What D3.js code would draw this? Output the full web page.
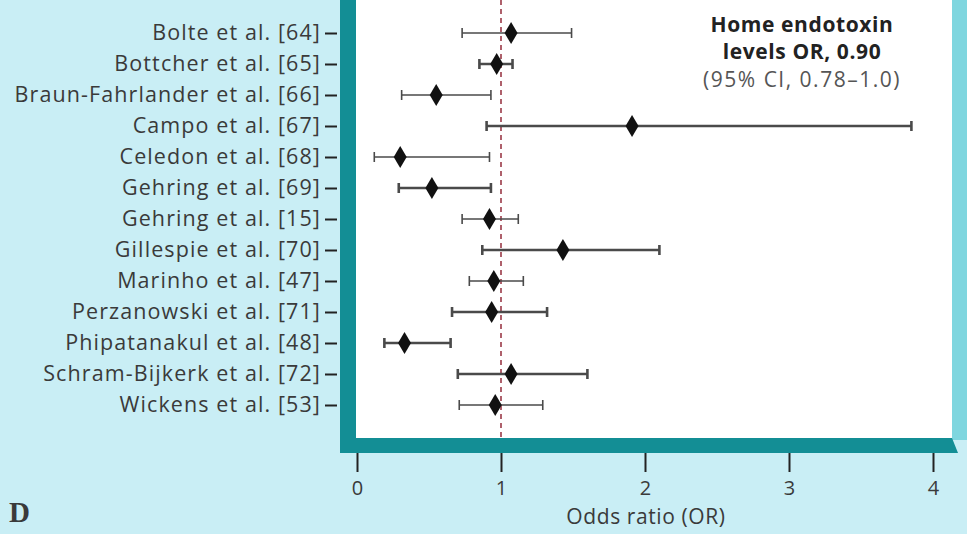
<!DOCTYPE html>
<meta charset="utf-8">
<script src="https://cdn.jsdelivr.net/npm/d3@7"></script>
<style>
body { margin: 0; background: #c9eef5; }
text { font-family: "Open Sans", Lato, sans-serif; fill: #3a3a3a; }
.ci { stroke: #4a4a4a; fill: none; }
</style>
<div id="forest"></div>
<script>

// studies, top to bottom
const studies = ["Bolte et al. [64]", "Bottcher et al. [65]", "Braun-Fahrlander et al. [66]",
  "Campo et al. [67]", "Celedon et al. [68]", "Gehring et al. [69]", "Gehring et al. [15]",
  "Gillespie et al. [70]", "Marinho et al. [47]", "Perzanowski et al. [71]",
  "Phipatanakul et al. [48]", "Schram-Bijkerk et al. [72]", "Wickens et al. [53]"];
const or    = [1.07, 0.97, 0.55, 1.91, 0.30, 0.52, 0.92, 1.43, 0.95, 0.935, 0.33, 1.07, 0.96];
const lower = [0.73, 0.85, 0.31, 0.90, 0.12, 0.29, 0.73, 0.87, 0.78, 0.66, 0.19, 0.70, 0.71];
const upper = [1.49, 1.08, 0.93, 3.85, 0.92, 0.93, 1.12, 2.10, 1.155, 1.32, 0.65, 1.60, 1.29];
// rows drawn with a heavier line in the original
const heavy = ["Bottcher et al. [65]", "Campo et al. [67]", "Gehring et al. [69]",
  "Gillespie et al. [70]", "Perzanowski et al. [71]", "Phipatanakul et al. [48]", "Schram-Bijkerk et al. [72]"];
const xTicks = [0, 1, 2, 3, 4];

const W = 967, H = 534;
const svg = d3.select("#forest").append("svg")
  .attr("width", W).attr("height", H);

const x = d3.scaleLinear().domain([0, 4]).range([357, 933]);
const y = d3.scalePoint().domain(studies).range([33, 405]);

// frame: white panel, teal left & bottom bars, light bar on right
const panel = {left: 356, right: 952, top: 0, bottom: 438};
svg.append("rect").attr("x", panel.right).attr("y", 0)
  .attr("width", W - panel.right).attr("height", panel.bottom + 2).attr("fill", "#7fd6df");
svg.append("rect").attr("x", panel.left).attr("y", 0)
  .attr("width", panel.right - panel.left).attr("height", panel.bottom).attr("fill", "#fff");
svg.append("rect").attr("x", 340).attr("y", 0)
  .attr("width", 16).attr("height", 453).attr("fill", "#138e95");
svg.append("path")
  .attr("d", `M340,${panel.bottom}H${panel.right}L958,453H340Z`)
  .attr("fill", "#138e95");

// reference line at OR = 1
svg.append("line")
  .attr("x1", x(1)).attr("x2", x(1)).attr("y1", 0).attr("y2", panel.bottom)
  .attr("stroke", "#9b3a48").attr("stroke-width", 1.6).attr("stroke-dasharray", "5,4");

// confidence intervals
const rows = studies.map((s, i) => ({name: s, or: or[i], lo: lower[i], hi: upper[i]}));
const g = svg.append("g").selectAll("g").data(rows).join("g")
  .attr("class", "ci")
  .attr("stroke-width", d => heavy.includes(d.name) ? 2.6 : 1.6);
g.append("line").attr("x1", d => x(d.lo)).attr("x2", d => x(d.hi))
  .attr("y1", d => y(d.name)).attr("y2", d => y(d.name));
g.append("line").attr("x1", d => x(d.lo)).attr("x2", d => x(d.lo))
  .attr("y1", d => y(d.name) - 5).attr("y2", d => y(d.name) + 5);
g.append("line").attr("x1", d => x(d.hi)).attr("x2", d => x(d.hi))
  .attr("y1", d => y(d.name) - 5).attr("y2", d => y(d.name) + 5);

// diamonds
svg.append("g").selectAll("path").data(rows).join("path")
  .attr("d", "M0,-11L6.5,0L0,11L-6.5,0Z")
  .attr("transform", d => `translate(${x(d.or)},${y(d.name)})`)
  .attr("fill", "#111");

// y axis (study labels)
const yAxis = svg.append("g").attr("transform", "translate(337,0)")
  .call(d3.axisLeft(y).tickSize(12).tickPadding(4));
yAxis.select(".domain").remove();
yAxis.selectAll(".tick line").attr("stroke", "#222").attr("stroke-width", 2);
yAxis.selectAll("text").style("font-size", "21.5px").style("letter-spacing", "1.1px")
  .attr("fill", "#3a3a3a");

// x axis
const xAxis = svg.append("g").attr("transform", "translate(0,453)")
  .call(d3.axisBottom(x).tickValues(xTicks).tickFormat(d3.format("d")).tickSize(19).tickPadding(9));
xAxis.select(".domain").remove();
xAxis.selectAll(".tick line").attr("stroke", "#222").attr("stroke-width", 2);
xAxis.selectAll("text").style("font-size", "20px").attr("fill", "#3a3a3a");

svg.append("text").attr("x", 646).attr("y", 524).attr("text-anchor", "middle")
  .style("font-size", "21px").style("letter-spacing", "0.6px").text("Odds ratio (OR)");

// panel letter
svg.append("text").attr("x", 9).attr("y", 522)
  .style("font-family", "'Liberation Serif', serif").style("font-weight", "bold")
  .style("font-size", "29px").attr("fill", "#111").text("D");

// summary note
const note = svg.append("text").attr("text-anchor", "middle").style("font-size", "21px");
note.append("tspan").attr("x", 802).attr("y", 32).style("font-weight", "bold")
  .style("letter-spacing", "0.6px").attr("fill", "#222").text("Home endotoxin");
note.append("tspan").attr("x", 802).attr("y", 59).style("font-weight", "bold")
  .style("letter-spacing", "0.6px").attr("fill", "#222").text("levels OR, 0.90");
note.append("tspan").attr("x", 802).attr("y", 87).style("letter-spacing", "1.5px")
  .attr("fill", "#555").text("(95% CI, 0.78\u20131.0)");

</script>
